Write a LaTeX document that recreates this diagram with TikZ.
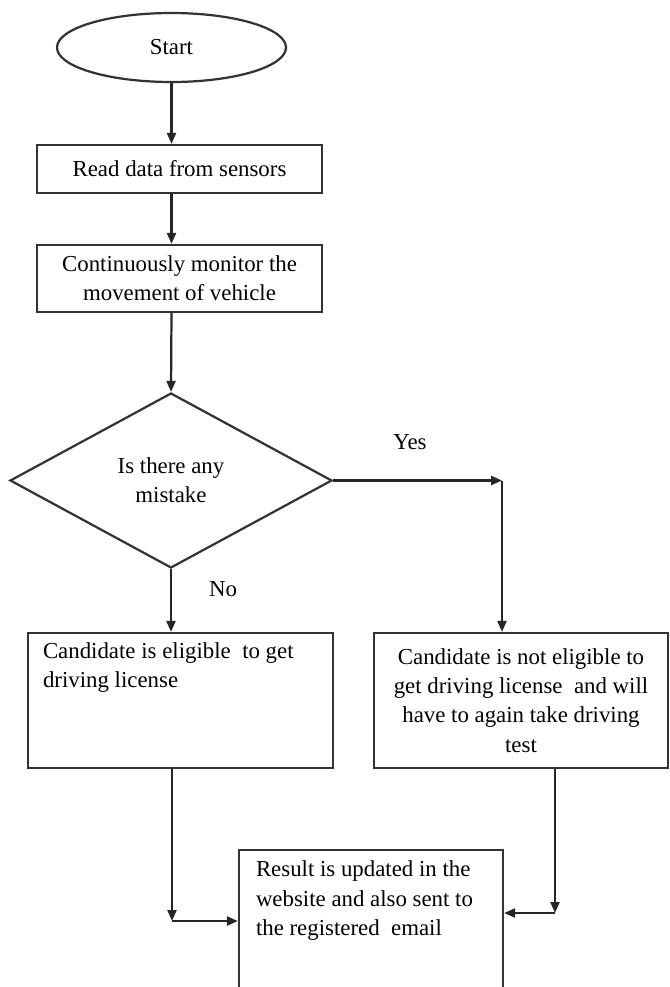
\documentclass[tikz,border=0pt]{standalone}
\usepackage{fontspec}
\setmainfont{Liberation Serif}
\usetikzlibrary{shapes.geometric,arrows.meta}

\begin{document}
\begin{tikzpicture}[font=\fontsize{19.5}{25}\selectfont]
  \tikzstyle{terminal} = [ellipse, draw=black!80, line width=1.9pt, minimum width=6.87cm, minimum height=2.07cm]
  \tikzstyle{process} = [rectangle, draw=black!80, line width=1.9pt, align=center]
  \tikzstyle{decision} = [diamond, draw=black!80, line width=1.9pt, minimum width=9.66cm, minimum height=5.25cm, inner sep=0pt, align=center]
  \tikzstyle{textbox} = [rectangle, draw=black!80, line width=1.9pt]
  \tikzstyle{line} = [draw=black!85, line width=1.9pt]
  \tikzstyle{flow} = [line, -{Triangle[length=0.33cm, width=0.27cm]}]

  \clip (0,0) rectangle (20.1,-29.61);

  \node[terminal] (start) at (5.145,-1.425) {Start};
  \node[process, minimum width=8.55cm, minimum height=1.44cm] (read) at (5.385,-5.07) {Read data from sensors};
  \node[process, minimum width=8.55cm, minimum height=2.01cm] (monitor) at (5.385,-8.355) {Continuously monitor the\\movement of vehicle};
  \node[decision] (dec) at (5.13,-14.415) {Is there any\\mistake};
  \node[textbox, inner xsep=0.45cm, inner ysep=0.28cm] (elig) at (5.415,-21.015)
    {\parbox[c][3.49cm][t]{8.25cm}{\raggedright Candidate is eligible\ \ to get\\driving license}};
  \node[process, minimum width=8.82cm, minimum height=4.05cm] (notelig) at (15.63,-21.015)
    {Candidate is not eligible to\\get driving license\ \ and will\\have to again take driving\\test};
  \node[textbox, inner xsep=0.51cm, inner ysep=0.33cm] (result) at (11.13,-27.75)
    {\parbox[c][3.84cm][t]{6.9cm}{\raggedright Result is updated in the\\website and also sent to\\the registered\ \ email}};

  \node (yes) at (12.3,-13.26) {Yes};
  \node (no) at (6.69,-17.67) {No};

  \coordinate (yescorner) at (15.06,-14.415);
  \coordinate (leftcorner) at (5.16,-27.63);
  \coordinate (rightcorner) at (16.65,-27.39);

  \draw[flow] (start.south) -- (start.south |- read.north);
  \draw[flow] (read.south -| start) -- (monitor.north -| start);
  \draw[flow] (monitor.south -| start) -- (dec.north);
  \draw[flow] (dec.south) -- (dec.south |- elig.north);

  \draw[flow] (dec.east) -- (yescorner);
  \draw[flow] (yescorner) -- (yescorner |- notelig.north);

  \draw[flow] (elig.south -| leftcorner) -- (leftcorner);
  \draw[flow] (leftcorner) -- (leftcorner -| result.west);
  \draw[flow] (notelig.south -| rightcorner) -- (rightcorner);
  \draw[flow] (rightcorner) -- (rightcorner -| result.east);
\end{tikzpicture}
\end{document}
